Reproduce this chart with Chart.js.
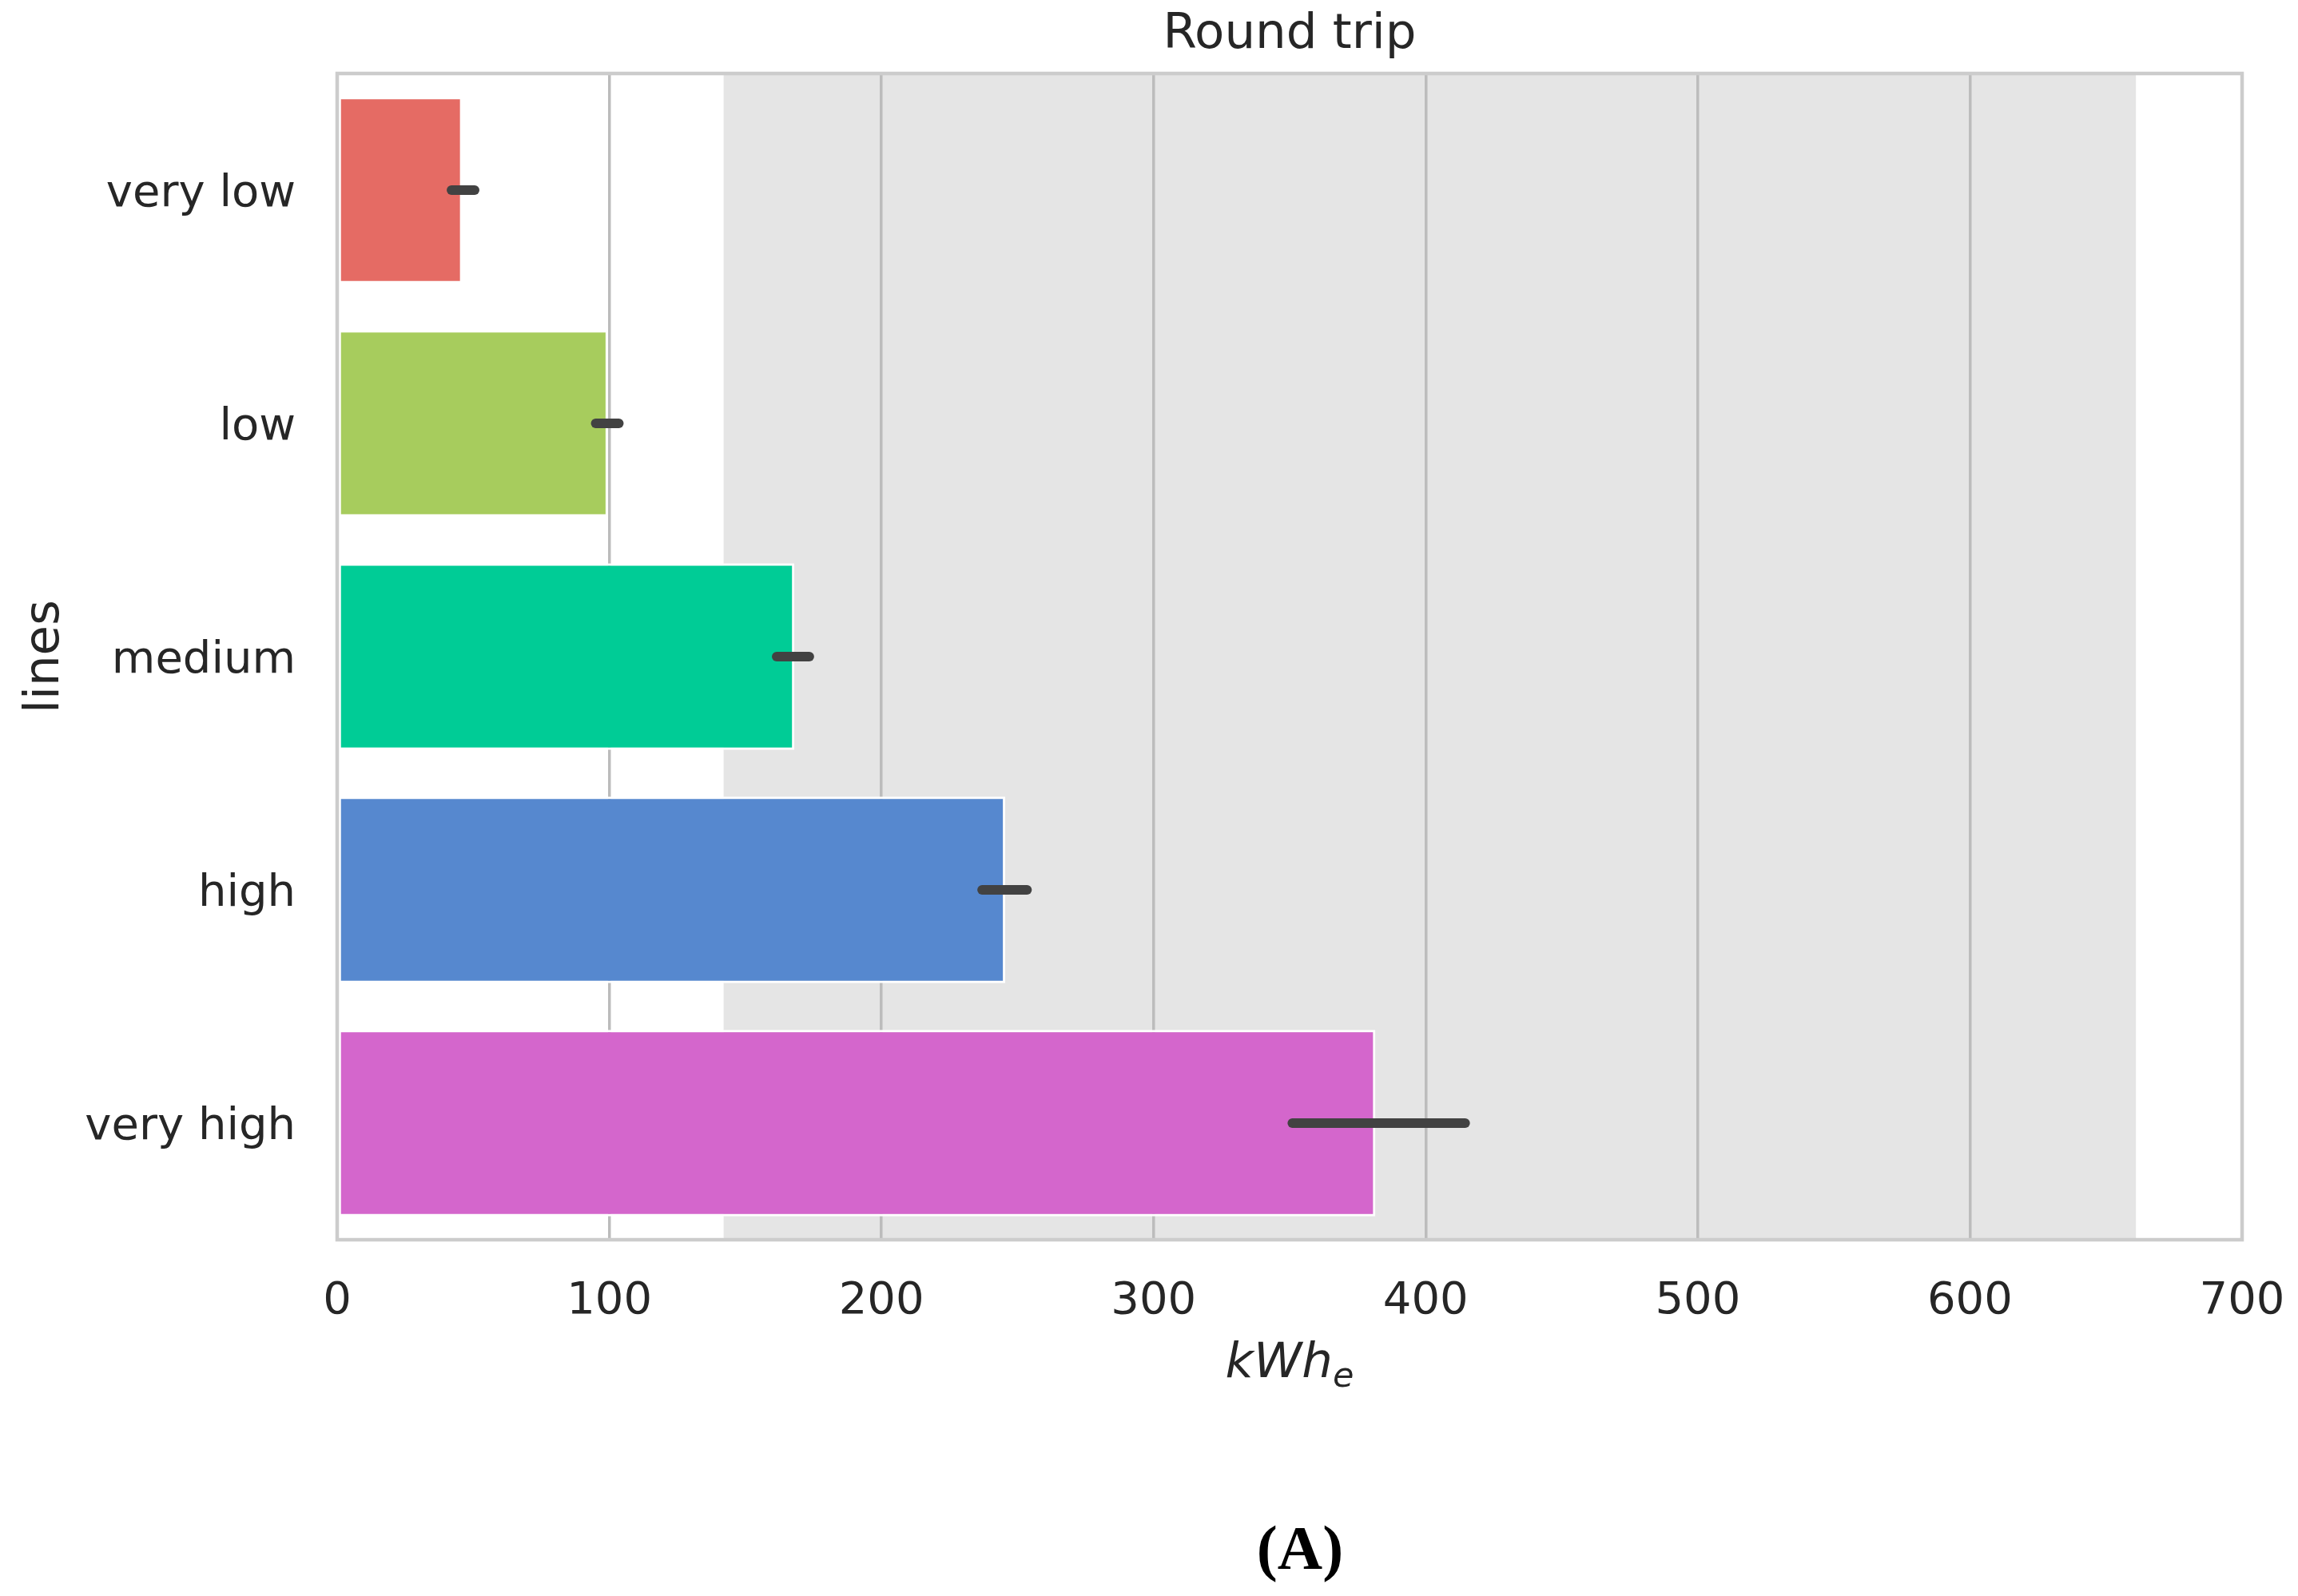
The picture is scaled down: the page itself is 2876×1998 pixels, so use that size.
<!DOCTYPE html>
<html>
<head>
<meta charset="utf-8">
<script src="https://cdn.jsdelivr.net/npm/chart.js@4.4.0/dist/chart.umd.min.js"></script>
<style>
  body { margin: 0; background: #fff; }
  #wrap { position: relative; width: 2876px; height: 1998px; }
  #tag {
    position: absolute; left: 1527px; top: 1899px; width: 200px;
    text-align: center; font: bold 78px "Liberation Serif", serif; line-height: 78px; color: #000;
  }
</style>
</head>
<body>
<div id="wrap">
  <canvas id="trip" width="2876" height="1998"></canvas>
  <div id="tag">(A)</div>
</div>
<script>
// values
let categories = ['very low', 'low', 'medium', 'high', 'very high'],
    energy = [46, 99.5, 168, 245.5, 381.5],
    errLow = [42, 95, 161.5, 237, 351],
    errHigh = [50.5, 103.5, 173.5, 253.5, 414.5],
    barColors = ['#e56b64', '#a7cc5d', '#00cc96', '#5688cf', '#d466cc'],
    xTicks = [0, 100, 200, 300, 400, 500, 600, 700],
    span = [142, 661];

const ink = '#262626';
const font = 'DejaVu Sans';

// grey band behind the grid
const spanPlugin = {
    id: 'span',
    beforeDraw(chart) {
        let c = chart.ctx, x = chart.scales.x, a = chart.chartArea;
        let x0 = x.getPixelForValue(span[0]), x1 = x.getPixelForValue(span[1]);
        c.save();
        c.fillStyle = '#e5e5e5';
        c.fillRect(x0, a.top, x1 - x0, a.bottom - a.top);
        c.restore();
    }
};

// error bars, frame, title and x title with subscript
const extras = {
    id: 'extras',
    afterDatasetsDraw(chart) {
        let c = chart.ctx, x = chart.scales.x, y = chart.scales.y, a = chart.chartArea;
        let mid = (a.left + a.right) / 2;
        c.save();
        c.strokeStyle = '#424242';
        c.lineWidth = 12;
        c.lineCap = 'round';
        categories.forEach(function(item, i) {
            let py = y.getPixelForValue(i);
            c.beginPath();
            c.moveTo(x.getPixelForValue(errLow[i]), py);
            c.lineTo(x.getPixelForValue(errHigh[i]), py);
            c.stroke();
        });

        c.strokeStyle = '#cccccc';
        c.lineWidth = 4.5;
        c.lineCap = 'butt';
        c.strokeRect(a.left, a.top, a.right - a.left, a.bottom - a.top);

        c.fillStyle = ink;
        c.textAlign = 'center';
        c.textBaseline = 'middle';
        c.font = '61px "' + font + '"';
        c.fillText('Round trip', mid, 44);

        // kWh_e
        let main = 'italic 61px "' + font + '"', sub = 'italic 43px "' + font + '"';
        c.font = main;
        let w1 = c.measureText('kWh').width;
        c.font = sub;
        let w2 = c.measureText('e').width;
        let sx = mid - (w1 + w2) / 2, sy = 1724;
        c.textBaseline = 'alphabetic';
        c.textAlign = 'left';
        c.font = main;
        c.fillText('kWh', sx, sy);
        c.font = sub;
        c.fillText('e', sx + w1, sy + 12);
        c.restore();
    }
};

var ctx = document.getElementById('trip').getContext('2d');
var chart = new Chart(ctx, {
    type: 'bar',
    data: {
        labels: categories,
        datasets: [{
            data: energy,
            backgroundColor: barColors,
            borderColor: '#ffffff',
            borderWidth: 3,
            borderSkipped: false,
            barPercentage: 0.8,
            categoryPercentage: 1.0
        }]
    },
    options: {
        indexAxis: 'y',
        responsive: false,
        animation: false,
        layout: { padding: { left: 0, right: 70, top: 92, bottom: 0 } },
        plugins: {
            legend: { display: false },
            tooltip: { enabled: false },
            title: { display: false }
        },
        scales: {
            x: {
                min: 0,
                max: 700,
                afterBuildTicks(scale) {
                    scale.ticks = xTicks.map(v => ({ value: v }));
                },
                afterFit(scale) {
                    scale.height = 446;
                    scale.paddingLeft = 0;
                    scale.paddingRight = 0;
                },
                grid: { color: '#bcbcbc', lineWidth: 3.5, drawTicks: false },
                border: { display: false },
                ticks: {
                    color: ink,
                    padding: 44,
                    font: { family: font, size: 56 }
                }
            },
            y: {
                afterFit(scale) {
                    scale.width = 422;
                    scale.paddingTop = 0;
                    scale.paddingBottom = 0;
                },
                grid: { display: false, drawTicks: false },
                border: { display: false },
                ticks: {
                    color: ink,
                    padding: 52,
                    labelOffset: 5,
                    font: { family: font, size: 56 }
                },
                title: {
                    display: true,
                    text: 'lines',
                    color: ink,
                    font: { family: font, size: 61 },
                    padding: { top: 21, bottom: 0 }
                }
            }
        }
    },
    plugins: [spanPlugin, extras]
});
</script>
</body>
</html>
